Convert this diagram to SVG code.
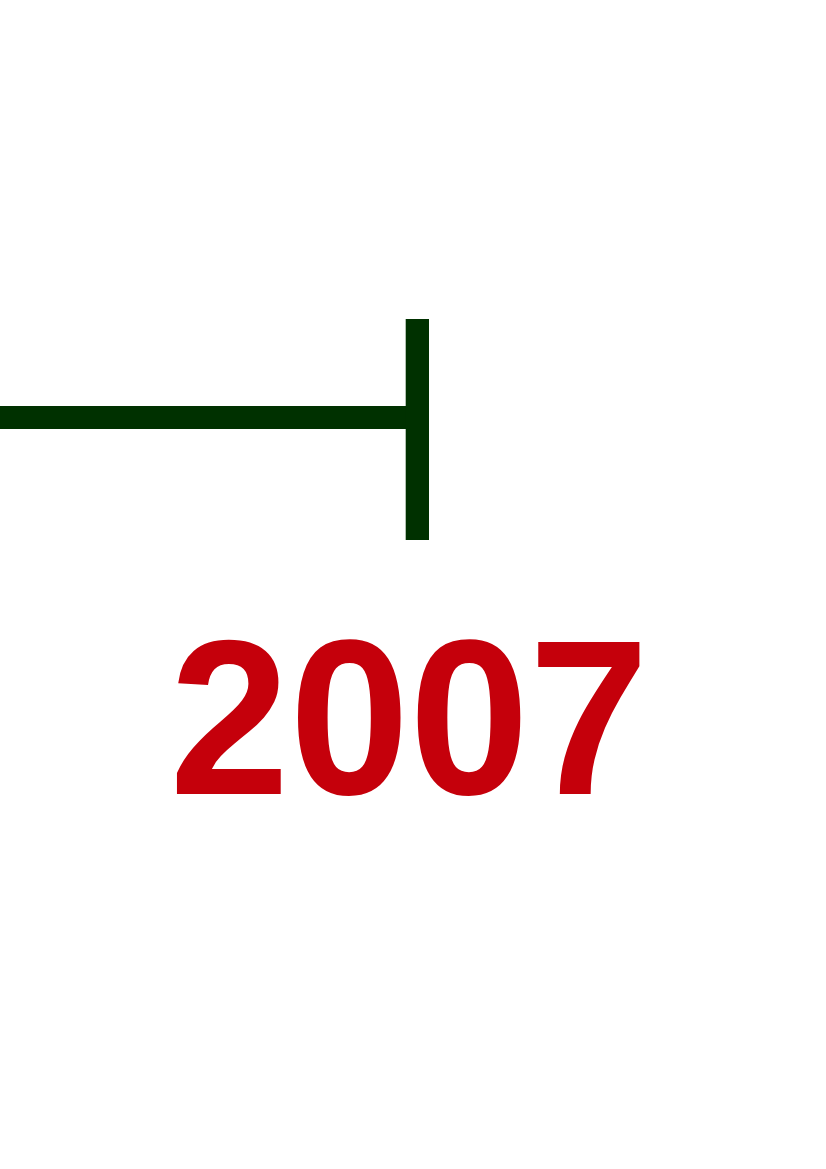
<svg xmlns="http://www.w3.org/2000/svg" width="826" height="1169" viewBox="0 0 826 1169">
<style>
.bar{fill:#003100}
.year{font-family:"Liberation Sans",Arial,sans-serif;font-weight:bold;fill:#c5000b}
</style>
<rect width="826" height="1169" fill="#ffffff"/>
<g id="connectors">
<rect class="bar" x="0" y="406" width="418" height="23"/>
</g>
<g id="end-marker">
<rect class="bar" x="405.7" y="319" width="23.3" height="221"/>
</g>
<g id="year-label">
<text class="year" transform="translate(169.6,794) scale(0.975,1)" x="0" y="0" font-size="221">2007</text>
</g>
</svg>
